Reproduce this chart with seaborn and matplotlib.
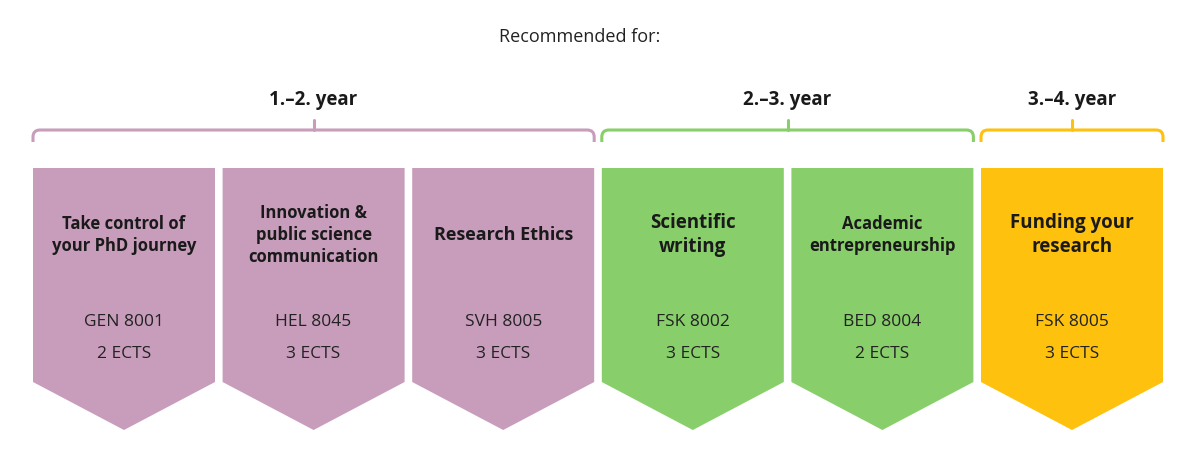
import matplotlib
matplotlib.use("Agg")
import matplotlib.pyplot as plt
import seaborn as sns
from matplotlib.patches import Polygon, PathPatch
from matplotlib.path import Path

# course data
titles = ["Take control of\nyour PhD journey", "Innovation &\npublic science\ncommunication",
          "Research Ethics", "Scientific\nwriting", "Academic\nentrepreneurship",
          "Funding your\nresearch"]
codes = ["GEN 8001", "HEL 8045", "SVH 8005", "FSK 8002", "BED 8004", "FSK 8005"]
ects = [2, 3, 3, 3, 2, 3]
group_of = [0, 0, 0, 1, 1, 2]

# year groups
group_labels = ["1.–2. year", "2.–3. year", "3.–4. year"]
group_colors = ["#C89DBB", "#88CE6A", "#FDC10E"]

sns.set_theme(style="white")
plt.rcParams['font.family'] = ['Open Sans', 'DejaVu Sans']

fig = plt.figure(figsize=(12, 4.55), dpi=100)
ax = fig.add_axes([0, 0, 1, 1])
ax.set_xlim(0, 1200)
ax.set_ylim(455, 0)
ax.axis("off")

x_start, width, pitch = 33, 182, 189.6
top, shoulder, tip = 168, 382, 430
title_sizes = [12, 12, 13, 13.5, 12, 13.5]

lefts = [x_start + i * pitch for i in range(len(titles))]
for i, x0 in enumerate(lefts):
    c = group_colors[group_of[i]]
    pts = [(x0, top), (x0 + width, top), (x0 + width, shoulder),
           (x0 + width / 2, tip), (x0, shoulder)]
    ax.add_patch(Polygon(pts, closed=True, facecolor=c, edgecolor="none"))
    cx = x0 + width / 2
    ax.text(cx, 235, titles[i], ha="center", va="center", fontsize=title_sizes[i],
            fontweight="bold", color="#1a1a1a", linespacing=1.25)
    ax.text(cx, 322, codes[i], ha="center", va="center", fontsize=12.5, color="#222222")
    ax.text(cx, 354, f"{ects[i]} ECTS", ha="center", va="center", fontsize=12.5, color="#222222")

# brackets
for g, label in enumerate(group_labels):
    idx = [i for i in range(len(titles)) if group_of[i] == g]
    x0 = lefts[idx[0]]
    x1 = lefts[idx[-1]] + width
    r = 7
    verts = [(x0, 142), (x0, 130 + r), (x0, 130), (x0 + r, 130),
             (x1 - r, 130), (x1, 130), (x1, 130 + r), (x1, 142)]
    codes_p = [Path.MOVETO, Path.LINETO, Path.CURVE3, Path.CURVE3,
               Path.LINETO, Path.CURVE3, Path.CURVE3, Path.LINETO]
    ax.add_patch(PathPatch(Path(verts, codes_p), facecolor="none",
                           edgecolor=group_colors[g], lw=2.2))
    mid = (x0 + x1) / 2
    ax.plot([mid, mid], [130, 120], color=group_colors[g], lw=2.2)
    ax.text(mid, 100, label, ha="center", va="center", fontsize=13.5,
            fontweight="bold", color="#1a1a1a")

ax.text(580, 37, "Recommended for:", ha="center", va="center", fontsize=13, color="#222222")

fig.savefig("out.png", dpi=100)
